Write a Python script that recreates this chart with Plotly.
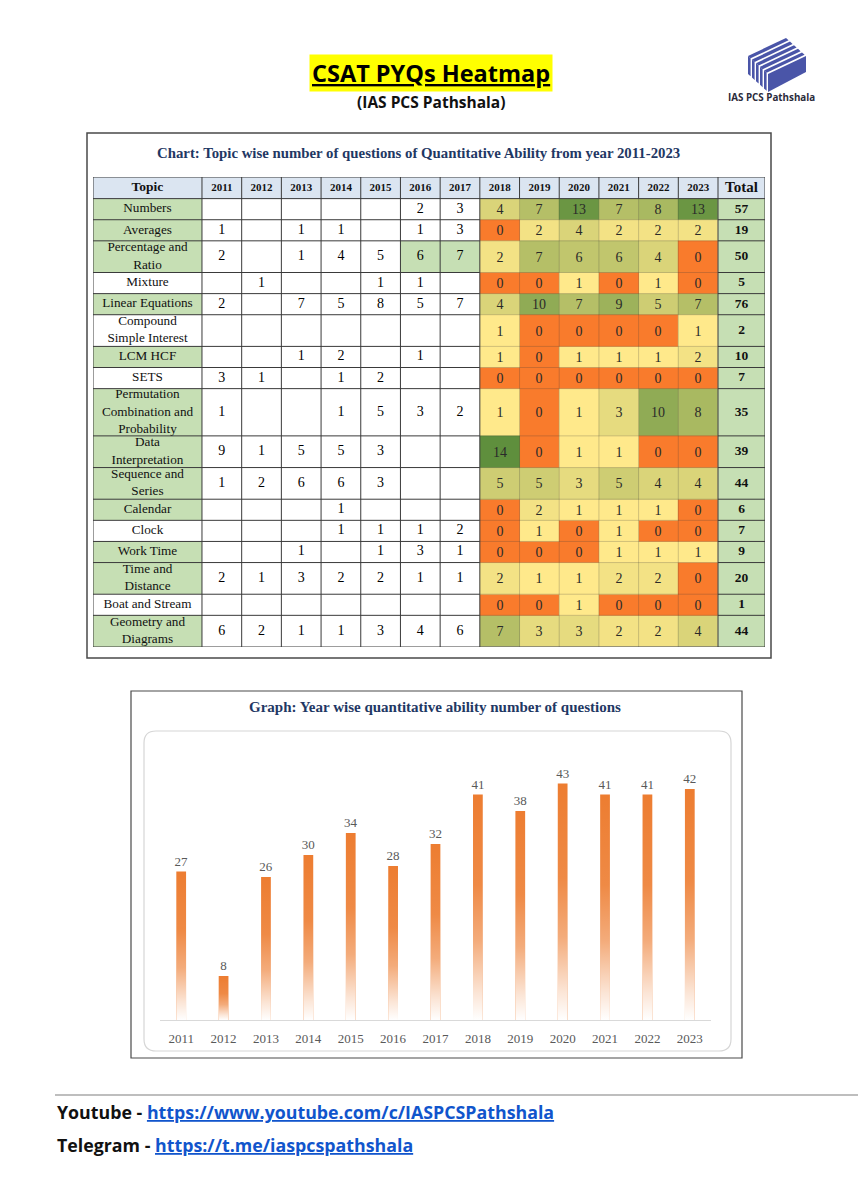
import numpy as np
import plotly.graph_objects as go

PAGE_W, PAGE_H = 866, 1200
OFF = 8  # default body margin of the html page
W, H = PAGE_W - OFF, PAGE_H - OFF

# ---------------- data ----------------
years = [2011, 2012, 2013, 2014, 2015, 2016, 2017, 2018, 2019, 2020, 2021, 2022, 2023]
early_years = [2011, 2012, 2013, 2014, 2015, 2016, 2017]
heat_years = [2018, 2019, 2020, 2021, 2022, 2023]

topics = [
    "Numbers", "Averages", "Percentage and<br>Ratio", "Mixture", "Linear Equations",
    "Compound<br>Simple Interest", "LCM HCF", "SETS",
    "Permutation<br>Combination and<br>Probability", "Data<br>Interpretation",
    "Sequence and<br>Series", "Calendar", "Clock", "Work Time", "Time and<br>Distance",
    "Boat and Stream", "Geometry and<br>Diagrams",
]

early_counts = [
    [None, None, None, None, None, 2, 3],
    [1, None, 1, 1, None, 1, 3],
    [2, None, 1, 4, 5, 6, 7],
    [None, 1, None, None, 1, 1, None],
    [2, None, 7, 5, 8, 5, 7],
    [None, None, None, None, None, None, None],
    [None, None, 1, 2, None, 1, None],
    [3, 1, None, 1, 2, None, None],
    [1, None, None, 1, 5, 3, 2],
    [9, 1, 5, 5, 3, None, None],
    [1, 2, 6, 6, 3, None, None],
    [None, None, None, 1, None, None, None],
    [None, None, None, 1, 1, 1, 2],
    [None, None, 1, None, 1, 3, 1],
    [2, 1, 3, 2, 2, 1, 1],
    [None, None, None, None, None, None, None],
    [6, 2, 1, 1, 3, 4, 6],
]

heat_counts = [
    [4, 7, 13, 7, 8, 13],
    [0, 2, 4, 2, 2, 2],
    [2, 7, 6, 6, 4, 0],
    [0, 0, 1, 0, 1, 0],
    [4, 10, 7, 9, 5, 7],
    [1, 0, 0, 0, 0, 1],
    [1, 0, 1, 1, 1, 2],
    [0, 0, 0, 0, 0, 0],
    [1, 0, 1, 3, 10, 8],
    [14, 0, 1, 1, 0, 0],
    [5, 5, 3, 5, 4, 4],
    [0, 2, 1, 1, 1, 0],
    [0, 1, 0, 1, 0, 0],
    [0, 0, 0, 1, 1, 1],
    [2, 1, 1, 2, 2, 0],
    [0, 0, 1, 0, 0, 0],
    [7, 3, 3, 2, 2, 4],
]

totals = [57, 19, 50, 5, 76, 2, 10, 7, 35, 39, 44, 6, 7, 9, 20, 1, 44]

bar_values = [27, 8, 26, 30, 34, 28, 32, 41, 38, 43, 41, 41, 42]

# ---------------- styles ----------------
topic_highlight = [True, True, True, False, True, False, True, False, True, True,
                   True, True, False, True, True, False, True]
green_cells = [(2, 2016), (2, 2017)]

SERIF = "Liberation Serif"
SANS = "Open Sans"
NAVY = "#1F3864"
C_WHITE, C_GREEN, C_BLUE = "#FFFFFF", "#C6DFB4", "#DBE5F1"
HEAT_SCALE = [[0, "#F97B2C"], [1 / 14, "#FFE98B"], [1, "#5F8F3D"]]
GRID = "#3A3A3A"
FAINT = "rgba(60,60,60,0.30)"
TXT = "#111111"

# table geometry (in table-axis units)
ROW_H = {1: 21.0, 2: 31.5, 3: 47.0}
HEADER_H = 21.5
col_w = [109.0] + [39.7] * len(years) + [47.0]
line_counts = [t.count("<br>") + 1 for t in topics]
row_h = [HEADER_H] + [ROW_H[c] for c in line_counts]
x_edges = np.concatenate([[0.0], np.cumsum(col_w)])
y_edges = np.concatenate([[0.0], np.cumsum(row_h)])
x_mid = (x_edges[:-1] + x_edges[1:]) / 2
y_mid = (y_edges[:-1] + y_edges[1:]) / 2
n_rows = len(topics)
n_cols = len(col_w)
heat_start = years.index(heat_years[0]) + 1
heat_end = heat_start + len(heat_years)


def X(px):
    return (px - OFF) / W


def Y(py):
    return 1 - (py - OFF) / H


fig = go.Figure()

# ---- base table cells ----
base_z = np.zeros((n_rows + 1, n_cols))
base_z[0, :] = 2
for r, hl in enumerate(topic_highlight):
    base_z[r + 1, 0] = 1 if hl else 0
base_z[1:, -1] = 1
for r, yr in green_cells:
    base_z[r + 1, years.index(yr) + 1] = 1
base_z[1:, heat_start:heat_end] = np.nan

fig.add_trace(go.Heatmap(
    x=x_edges, y=y_edges, z=base_z, zmin=0, zmax=2, showscale=False, hoverinfo="skip",
    colorscale=[[0, C_WHITE], [0.333, C_WHITE], [0.333, C_GREEN], [0.667, C_GREEN],
                [0.667, C_BLUE], [1, C_BLUE]],
    xaxis="x", yaxis="y"))

# ---- heat region ----
fig.add_trace(go.Heatmap(
    x=x_edges[heat_start:heat_end + 1], y=y_edges[1:], z=heat_counts,
    zmin=0, zmax=max(max(r) for r in heat_counts), colorscale=HEAT_SCALE, showscale=False,
    texttemplate="%{z}", textfont=dict(family=SERIF, size=14, color="#2A2A2A"),
    hoverinfo="skip", xaxis="x", yaxis="y"))

# ---- header text ----
hdr_text = ["<b>Topic</b>"] + [f"<b>{y}</b>" for y in years] + ["<b>Total</b>"]
hdr_size = [13.5] + [11] * len(years) + [15]
fig.add_trace(go.Scatter(
    x=x_mid, y=[y_mid[0]] * n_cols, text=hdr_text, mode="text",
    textfont=dict(family=SERIF, size=hdr_size, color=TXT), textposition="middle center",
    hoverinfo="skip", showlegend=False, xaxis="x", yaxis="y"))

# ---- topic names ----
fig.add_trace(go.Scatter(
    x=[x_mid[0]] * n_rows, y=y_mid[1:], text=topics, mode="text",
    textfont=dict(family=SERIF, size=13.2, color=TXT), textposition="middle center",
    hoverinfo="skip", showlegend=False, xaxis="x", yaxis="y"))

# ---- early counts ----
ex, ey, et = [], [], []
for r, row in enumerate(early_counts):
    for c, v in enumerate(row):
        if v is not None:
            ex.append(x_mid[years.index(early_years[c]) + 1])
            ey.append(y_mid[r + 1])
            et.append(str(v))
fig.add_trace(go.Scatter(
    x=ex, y=ey, text=et, mode="text",
    textfont=dict(family=SERIF, size=14, color="#000000"), textposition="middle center",
    hoverinfo="skip", showlegend=False, xaxis="x", yaxis="y"))

# ---- totals ----
fig.add_trace(go.Scatter(
    x=[x_mid[-1]] * n_rows, y=y_mid[1:], text=[f"<b>{t}</b>" for t in totals], mode="text",
    textfont=dict(family=SERIF, size=13.5, color=TXT), textposition="middle center",
    hoverinfo="skip", showlegend=False, xaxis="x", yaxis="y"))

# ---- table grid lines ----
shapes = []
top, bot = y_edges[0], y_edges[-1]
for i, xe in enumerate(x_edges):
    if heat_start < i < heat_end:
        shapes.append(dict(type="line", xref="x", yref="y", x0=xe, x1=xe, y0=top, y1=y_edges[1],
                           line=dict(color=GRID, width=1)))
        shapes.append(dict(type="line", xref="x", yref="y", x0=xe, x1=xe, y0=y_edges[1], y1=bot,
                           line=dict(color=FAINT, width=0.8)))
    else:
        shapes.append(dict(type="line", xref="x", yref="y", x0=xe, x1=xe, y0=top, y1=bot,
                           line=dict(color=GRID, width=1)))
for j, ye in enumerate(y_edges):
    if j in (0, 1, len(y_edges) - 1):
        shapes.append(dict(type="line", xref="x", yref="y", x0=x_edges[0], x1=x_edges[-1],
                           y0=ye, y1=ye, line=dict(color=GRID, width=1)))
    else:
        shapes.append(dict(type="line", xref="x", yref="y", x0=x_edges[0], x1=x_edges[heat_start],
                           y0=ye, y1=ye, line=dict(color=GRID, width=1)))
        shapes.append(dict(type="line", xref="x", yref="y", x0=x_edges[heat_start],
                           x1=x_edges[heat_end], y0=ye, y1=ye, line=dict(color=FAINT, width=0.8)))
        shapes.append(dict(type="line", xref="x", yref="y", x0=x_edges[heat_end],
                           x1=x_edges[-1], y0=ye, y1=ye, line=dict(color=GRID, width=1)))

# ---------------- bar chart ----------------
BAR_W = 0.23
fig.add_trace(go.Bar(
    x=years, y=bar_values, width=BAR_W, marker=dict(color="#ED7D31", line_width=0),
    text=bar_values, textposition="outside", cliponaxis=False, constraintext="none",
    textfont=dict(family=SERIF, size=13, color="#595959"),
    hoverinfo="skip", showlegend=False, xaxis="x2", yaxis="y2"))

FADE = [[0, "rgba(255,255,255,1)"], [0.12, "rgba(255,255,255,0.8)"],
        [0.35, "rgba(255,255,255,0.36)"], [0.6, "rgba(255,255,255,0.1)"],
        [1, "rgba(255,255,255,0)"]]
for yr, v in zip(years, bar_values):
    fig.add_trace(go.Scatter(
        x=[yr - BAR_W / 2, yr + BAR_W / 2, yr + BAR_W / 2, yr - BAR_W / 2, yr - BAR_W / 2],
        y=[0, 0, v, v, 0], mode="lines", fill="toself", line=dict(width=0),
        fillgradient=dict(type="vertical", colorscale=FADE, start=0, stop=v),
        hoverinfo="skip", showlegend=False, xaxis="x2", yaxis="y2"))


# ---------------- decorations ----------------
def rect(x0, y0, x1, y1, **kw):
    d = dict(type="rect", xref="paper", yref="paper", x0=X(x0), x1=X(x1), y0=Y(y1), y1=Y(y0))
    d.update(kw)
    return d


def poly(pts, color):
    p = "M " + " L ".join(f"{X(a):.5f},{Y(b):.5f}" for a, b in pts) + " Z"
    return dict(type="path", xref="paper", yref="paper", path=p, fillcolor=color,
                line=dict(width=0))


def rounded(x0, y0, x1, y1, r):
    pts = [
        f"M {X(x0 + r)},{Y(y0)}", f"L {X(x1 - r)},{Y(y0)}", f"Q {X(x1)},{Y(y0)} {X(x1)},{Y(y0 + r)}",
        f"L {X(x1)},{Y(y1 - r)}", f"Q {X(x1)},{Y(y1)} {X(x1 - r)},{Y(y1)}",
        f"L {X(x0 + r)},{Y(y1)}", f"Q {X(x0)},{Y(y1)} {X(x0)},{Y(y1 - r)}",
        f"L {X(x0)},{Y(y0 + r)}", f"Q {X(x0)},{Y(y0)} {X(x0 + r)},{Y(y0)} Z",
    ]
    return " ".join(pts)


# right page border strip
shapes.append(rect(859, OFF, PAGE_W, PAGE_H, fillcolor="#CDCDCD", line=dict(width=0), layer="above"))
# frames
shapes.append(rect(87, 133, 771, 658, line=dict(color="#4A4A4A", width=1.5)))
shapes.append(rect(131, 691, 742, 1058, line=dict(color="#4A4A4A", width=1.2)))
shapes.append(dict(type="path", xref="paper", yref="paper", path=rounded(144, 731, 731, 1051, 12),
                   line=dict(color="#D6D6D6", width=1.2)))
# footer rule
shapes.append(dict(type="line", xref="paper", yref="paper", x0=X(55), x1=X(PAGE_W), y0=Y(1095),
                   y1=Y(1095), line=dict(color="#A8A8A8", width=1.5)))

# logo: striped cube
LOGO = "#4A55A8"
A, B, C, D = np.array([748, 56.0]), np.array([786, 38.0]), np.array([806, 56.0]), np.array([768, 74.0])
for k in range(5):
    t0, t1 = k / 5, k / 5 + 0.13
    q0, q1 = A + t0 * (D - A), A + t1 * (D - A)
    shapes.append(poly([q0, q1, q1 + (B - A), q0 + (B - A)], LOGO))
    shapes.append(poly([q0, q1, q1 + [0, 18], q0 + [0, 18]], LOGO))
shapes.append(poly([D, C, C + [0, 16], D + [0, 18]], LOGO))

annotations = [
    dict(x=X(431), y=Y(73), text="<b><u>CSAT PYQs Heatmap</u></b>", bgcolor="#FFFF00",
         borderpad=2, font=dict(family=SANS, size=23.5, color="#000")),
    dict(x=X(431), y=Y(102), text="<b>(IAS PCS Pathshala)</b>",
         font=dict(family=SANS, size=15.5, color=TXT)),
    dict(x=X(771), y=Y(97), text="<b>IAS PCS Pathshala</b>",
         font=dict(family=SANS, size=9.8, color="#2B2B3B")),
    dict(x=X(418), y=Y(153),
         text="<b>Chart: Topic wise number of questions of Quantitative Ability from year 2011-2023</b>",
         font=dict(family=SERIF, size=14.8, color=NAVY)),
    dict(x=X(435), y=Y(707), text="<b>Graph: Year wise quantitative ability number of questions</b>",
         font=dict(family=SERIF, size=15, color=NAVY)),
    dict(x=X(55), y=Y(1112), xanchor="left",
         text="<b>Youtube - </b><b><span style='color:#1155CC'><u>https://www.youtube.com/c/IASPCSPathshala</u></span></b>",
         font=dict(family=SANS, size=17.8, color=TXT)),
    dict(x=X(55), y=Y(1145), xanchor="left",
         text="<b>Telegram - </b><b><span style='color:#1155CC'><u>https://t.me/iaspcspathshala</u></span></b>",
         font=dict(family=SANS, size=17.8, color=TXT)),
]
for a in annotations:
    a.setdefault("xref", "paper")
    a.setdefault("yref", "paper")
    a.setdefault("showarrow", False)
    a.setdefault("xanchor", "center")
    a.setdefault("yanchor", "middle")

fig.update_layout(
    width=W, height=H, margin=dict(l=0, r=0, t=0, b=0),
    paper_bgcolor="#FFFFFF", plot_bgcolor="rgba(0,0,0,0)", showlegend=False,
    shapes=shapes, annotations=annotations,
    xaxis=dict(domain=[X(93), X(765)], range=[0, x_edges[-1]], visible=False, fixedrange=True,
               anchor="y"),
    yaxis=dict(domain=[Y(647), Y(177)], range=[y_edges[-1], 0], visible=False, fixedrange=True,
               anchor="x"),
    xaxis2=dict(domain=[X(160), X(711)], range=[years[0] - 0.5, years[-1] + 0.5],
                tickvals=years, ticktext=[str(y) for y in years], showline=True,
                linecolor="#D9D9D9", linewidth=1, showgrid=False, zeroline=False, ticks="",
                tickfont=dict(family=SERIF, size=13, color="#595959"), ticklabelstandoff=6,
                fixedrange=True, anchor="y2"),
    yaxis2=dict(domain=[Y(1020), Y(756)], range=[0, 48], visible=False, fixedrange=True,
                anchor="x2"),
)

fig.write_html("out.html")
